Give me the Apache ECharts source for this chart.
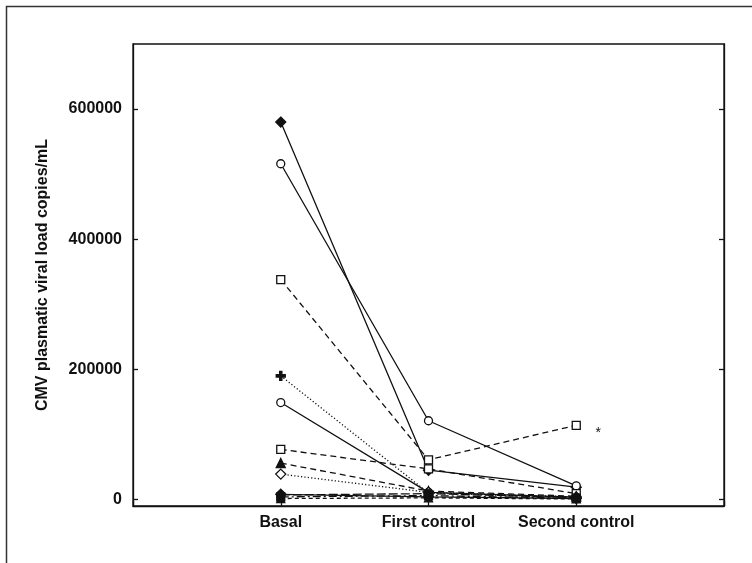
<!DOCTYPE html>
<html>
<head>
<meta charset="utf-8">
<script src="https://cdn.jsdelivr.net/npm/echarts@6/dist/echarts.min.js"></script>
<style>
html,body{margin:0;padding:0;background:#fff;}
#chart{width:752px;height:563px;}
</style>
</head>
<body>
<div id="chart"></div>
<script>
// ---- data ----
const categories = ['Basal', 'First control', 'Second control'];
const yTickValues = [0, 200000, 400000, 600000];
const patient1 = [580000, 45000, 19000];
const patient2 = [516000, 121000, 21000];
const patient3 = [338000, 61000, 114000];
const patient4 = [190000, 10000, 3000];
const patient5 = [149000, 11000, 3500];
const patient6 = [77000, 47000, 9000];
const patient7 = [56000, 13000, 5000];
const patient8 = [39000, 11000, 4000];
const patient9 = [7000, 9000, 3000];
const patient10 = [4000, 6000, 2000];
const patient11 = [8000, 4000, 1500];
const patient12 = [1500, 2500, 800];
const annotation = {category: 'Second control', value: 114000, text: '*'};

// ---- styles ----
const PLUS = 'path://M3,0H5V3H8V5H5V8H3V5H0V3H3Z';
const seriesDefs = [
  {name: 'P1', data: patient1, symbol: 'diamond', size: 10, fill: true, line: 'solid'},
  {name: 'P2', data: patient2, symbol: 'circle', size: 8, fill: false, line: 'solid'},
  {name: 'P3', data: patient3, symbol: 'rect', size: 8, fill: false, line: [6, 4]},
  {name: 'P4', data: patient4, symbol: PLUS, size: 9, fill: true, line: [1.2, 2.2]},
  {name: 'P5', data: patient5, symbol: 'circle', size: 8, fill: false, line: 'solid'},
  {name: 'P6', data: patient6, symbol: 'rect', size: 8, fill: false, line: [6, 4]},
  {name: 'P7', data: patient7, symbol: 'triangle', size: 9, fill: true, line: [6, 4]},
  {name: 'P8', data: patient8, symbol: 'diamond', size: 10, fill: false, line: [1.2, 2.2]},
  {name: 'P9', data: patient9, symbol: 'circle', size: 8, fill: true, line: [9, 3]},
  {name: 'P10', data: patient10, symbol: 'rect', size: 8, fill: true, line: [8, 3, 2, 3]},
  {name: 'P11', data: patient11, symbol: 'diamond', size: 10, fill: true, line: 'solid'},
  {name: 'P12', data: patient12, symbol: 'triangle', size: 8, fill: true, line: [4, 3]}
];

const INK = '#111';
const FONT = 'Liberation Sans, Arial, sans-serif';

const series = seriesDefs.map(function (d) {
  const s = {
    name: d.name,
    type: 'line',
    data: d.data.map(function (v, i) { return [i + 1, v]; }),
    symbol: d.symbol,
    symbolSize: d.size,
    showAllSymbol: true,
    lineStyle: {color: INK, width: 1.3, type: d.line},
    itemStyle: {color: d.fill ? INK : '#fff', borderColor: INK, borderWidth: 1.3},
    emphasis: {disabled: true},
    animation: false,
    z: 3
  };
  if (d.name === 'P3') {
    s.markPoint = {
      symbol: 'circle',
      symbolSize: 1,
      itemStyle: {color: 'rgba(0,0,0,0)'},
      label: {show: true, formatter: annotation.text, color: INK, fontSize: 14, fontFamily: FONT, offset: [22, 8]},
      data: [{coord: [categories.indexOf(annotation.category) + 1, annotation.value]}]
    };
  }
  return s;
});

const chart = echarts.init(document.getElementById('chart'), null, {renderer: 'canvas'});
chart.setOption({
  backgroundColor: '#fff',
  animation: false,
  grid: {left: 133, top: 44, right: 28, bottom: 57, show: true, borderColor: INK, borderWidth: 1.3, backgroundColor: 'transparent'},
  xAxis: {
    type: 'value', min: 0, max: categories.length + 1, interval: 1,
    axisLine: {show: true, onZero: false, lineStyle: {color: INK, width: 1.3}},
    axisTick: {show: true, inside: true, length: 5, lineStyle: {color: INK, width: 1.3}},
    splitLine: {show: false},
    axisLabel: {
      margin: 9, color: INK, fontSize: 16, fontWeight: 'bold', fontFamily: FONT,
      formatter: function (v) { return categories[v - 1] || ''; }
    }
  },
  yAxis: [{
    type: 'value', min: -10000, max: 700000, position: 'left',
    name: 'CMV plasmatic viral load copies/mL', nameLocation: 'middle', nameGap: 82,
    nameTextStyle: {color: INK, fontSize: 16, fontWeight: 'bold', fontFamily: FONT},
    axisLine: {show: true, lineStyle: {color: INK, width: 1.3}},
    axisTick: {show: true, inside: true, length: 5, customValues: yTickValues, lineStyle: {color: INK, width: 1.3}},
    axisLabel: {margin: 11, color: INK, fontSize: 16, fontWeight: 'bold', fontFamily: FONT, customValues: yTickValues,
      formatter: function (v) { return String(v); }},
    splitLine: {show: false}
  }, {
    type: 'value', min: -10000, max: 700000, position: 'right',
    axisLine: {show: true, lineStyle: {color: INK, width: 1.3}},
    axisTick: {show: true, inside: true, length: 5, customValues: yTickValues, lineStyle: {color: INK, width: 1.3}},
    axisLabel: {show: false},
    splitLine: {show: false}
  }],
  graphic: [{
    type: 'rect', left: 4, top: 4, silent: true,
    shape: {x: 0, y: 0, width: 780, height: 600},
    style: {fill: 'none', stroke: '#333', lineWidth: 1.5}
  }],
  series: series
});
</script>
</body>
</html>
